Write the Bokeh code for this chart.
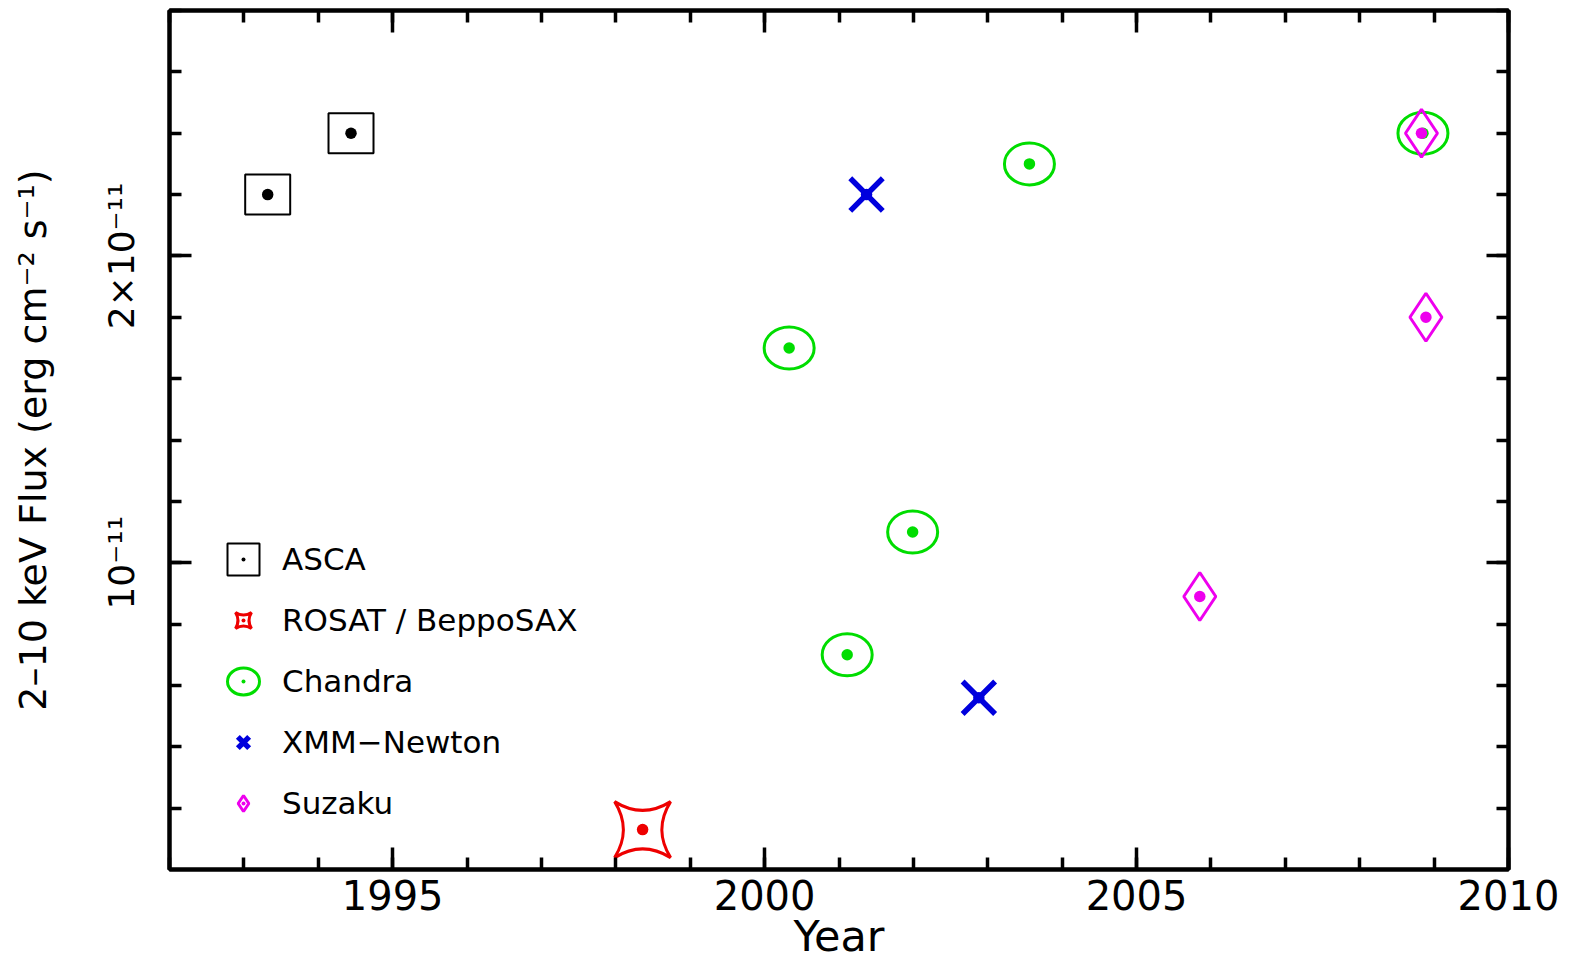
from bokeh.plotting import figure
from bokeh.models import (LinearAxis, FixedTicker, Legend, LegendItem, Range1d,
                          CustomJSTickFormatter)
from bokeh.embed import file_html
from bokeh.resources import INLINE

# ---- data: 2-10 keV flux in units of 1e-11 erg cm^-2 s^-1 ----
asca_year = [1993.32, 1994.44]
asca_flux = [2.20, 2.40]
rosat_year = [1998.36]
rosat_flux = [0.13]
chandra_year = [2000.33, 2001.11, 2001.99, 2003.56, 2008.85]
chandra_flux = [1.70, 0.70, 1.10, 2.30, 2.40]
xmm_year = [2001.37, 2002.88]
xmm_flux = [2.20, 0.56]
suzaku_year = [2005.85, 2008.89, 2008.83]
suzaku_flux = [0.89, 1.80, 2.40]

x_major = [1995, 2000, 2005, 2010]
x_minor = [1992, 1993, 1994, 1995, 1996, 1997, 1998, 1999, 2000, 2001,
           2002, 2003, 2004, 2005, 2006, 2007, 2008, 2009, 2010]
y_major = [1, 2]
y_minor = [0.2, 0.4, 0.6, 0.8, 1.0, 1.2, 1.4, 1.6, 1.8, 2.0, 2.2, 2.4, 2.6, 2.8]
y_labels = {1: "10\u207b\u00b9\u00b9", 2: "2\u00d710\u207b\u00b9\u00b9"}

FONT = "DejaVu Sans"
GREEN = "#00dd00"
RED = "#ee0000"
BLUE = "#0000dd"
MAGENTA = "#ee00ee"

p = figure(width=1575, height=965, x_range=Range1d(1992, 2010), y_range=Range1d(0, 2.8),
           output_backend="svg", toolbar_location=None,
           min_border_left=169, min_border_right=67, min_border_top=10, min_border_bottom=96,
           background_fill_color="white", border_fill_color="white")
p.xgrid.visible = False
p.ygrid.visible = False
p.outline_line_color = "black"
p.outline_line_width = 4

def style_axis(ax, show_labels):
    ax.axis_line_width = 4
    ax.axis_line_color = "black"
    ax.major_tick_in = 22
    ax.major_tick_out = 0
    ax.minor_tick_in = 12
    ax.minor_tick_out = 0
    ax.major_tick_line_width = 3.5
    ax.minor_tick_line_width = 3.5
    ax.major_tick_line_color = "black"
    ax.minor_tick_line_color = "black"
    if not show_labels:
        ax.formatter = CustomJSTickFormatter(code="return '';")
        ax.major_label_standoff = 0
        ax.major_label_text_font_size = "10px"

xb = p.xaxis[0]
xb.ticker = FixedTicker(ticks=x_major, minor_ticks=x_minor)
style_axis(xb, True)
xb.major_label_text_font = FONT
xb.major_label_text_font_size = "40px"
xb.major_label_text_color = "black"
xb.major_label_standoff = 10
xb.axis_label = "Year"
xb.axis_label_text_font = FONT
xb.axis_label_text_font_size = "43px"
xb.axis_label_text_font_style = "normal"
xb.axis_label_text_color = "black"
xb.axis_label_standoff = -2

yl = p.yaxis[0]
yl.ticker = FixedTicker(ticks=y_major, minor_ticks=y_minor)
style_axis(yl, True)
yl.major_label_overrides = y_labels
yl.major_label_orientation = "vertical"
yl.major_label_text_font = FONT
yl.major_label_text_font_size = "36px"
yl.major_label_text_color = "black"
yl.major_label_standoff = 27
yl.axis_label = "2\u201310 keV Flux (erg cm\u207b\u00b2 s\u207b\u00b9)"
yl.axis_label_text_font = FONT
yl.axis_label_text_font_size = "38px"
yl.axis_label_text_font_style = "normal"
yl.axis_label_text_color = "black"
yl.axis_label_standoff = 44

xt = LinearAxis(ticker=FixedTicker(ticks=x_major, minor_ticks=x_minor))
style_axis(xt, False)
p.add_layout(xt, "above")
yr = LinearAxis(ticker=FixedTicker(ticks=y_major, minor_ticks=y_minor))
style_axis(yr, False)
p.add_layout(yr, "right")

# ---- glyphs ----
r_asca = p.rect(asca_year, asca_flux, width=45, height=40, width_units="screen",
                height_units="screen", fill_color=None, line_color="black", line_width=2)
d_asca = p.scatter(asca_year, asca_flux, marker="dot", size=46, line_color="black",
                   fill_color="black", line_width=1)

r_rosat = p.scatter(rosat_year, rosat_flux, marker="square_pin", size=56, fill_color=None,
                    line_color=RED, line_width=3)
d_rosat = p.scatter(rosat_year, rosat_flux, marker="dot", size=46, line_color=RED,
                    fill_color=RED, line_width=1)

r_chandra = p.ellipse(chandra_year, chandra_flux, width=50, height=42, width_units="screen",
                      height_units="screen", fill_color=None, line_color=GREEN, line_width=3)
d_chandra = p.scatter(chandra_year, chandra_flux, marker="dot", size=46, line_color=GREEN,
                      fill_color=GREEN, line_width=1)

r_xmm = p.scatter(xmm_year, xmm_flux, marker="x", size=46, line_color=BLUE, line_width=5.5)
d_xmm = p.scatter(xmm_year, xmm_flux, marker="dot", size=46, line_color=BLUE,
                  fill_color=BLUE, line_width=1)

r_suz = p.scatter(suzaku_year, suzaku_flux, marker="diamond", size=48, fill_color=None,
                  line_color=MAGENTA, line_width=3)
d_suz = p.scatter(suzaku_year, suzaku_flux, marker="dot", size=46, line_color=MAGENTA,
                  fill_color=MAGENTA, line_width=1)

legend = Legend(items=[
    LegendItem(label="ASCA", renderers=[r_asca, d_asca]),
    LegendItem(label="ROSAT / BeppoSAX", renderers=[r_rosat, d_rosat]),
    LegendItem(label="Chandra", renderers=[r_chandra, d_chandra]),
    LegendItem(label="XMM\u2212Newton", renderers=[r_xmm, d_xmm]),
    LegendItem(label="Suzaku", renderers=[r_suz, d_suz]),
], location=(54, 46), glyph_width=40, glyph_height=40, label_height=40, spacing=21,
   label_standoff=19, padding=0, margin=0, border_line_color=None, background_fill_alpha=0,
   label_text_font=FONT, label_text_font_size="31px", label_text_color="black")
p.add_layout(legend)

open("out.html", "w").write(file_html(p, INLINE))
